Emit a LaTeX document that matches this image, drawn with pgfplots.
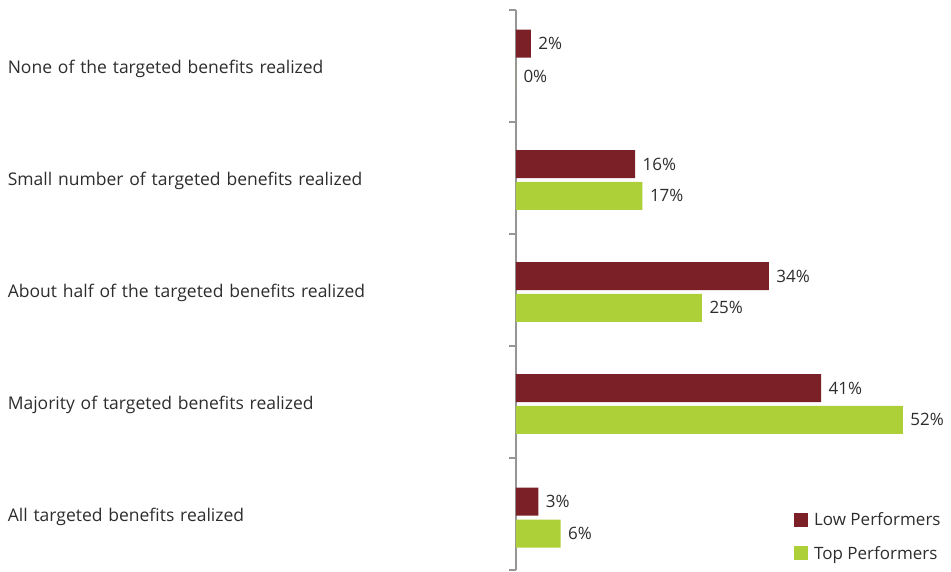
\documentclass[border=0pt]{standalone}
\usepackage{pgfplots}
\pgfplotsset{compat=1.18}
\usepackage{fontspec}
\setmainfont{Open Sans}
\definecolor{lowc}{RGB}{122,32,38}
\definecolor{topc}{RGB}{173,207,55}
\definecolor{txt}{RGB}{45,45,45}
\definecolor{axc}{RGB}{150,150,150}
\begin{document}
\begin{tikzpicture}
\useasboundingbox (-516pt,-2pt) rectangle (435pt,570pt);
\begin{axis}[
  at={(0,0)}, anchor=south west,
  scale only axis, width=435pt, height=560pt,
  xmin=0, xmax=58.47,
  ymin=-0.5, ymax=4.5, y dir=reverse,
  axis x line=none,
  axis y line*=left,
  y axis line style={axc, line width=1.2pt},
  ytick={-0.5,0.5,1.5,2.5,3.5,4.5},
  yticklabels={},
  major tick length=7pt,
  tick align=outside,
  ytick style={axc, line width=1.2pt},
  extra y ticks={0,1,2,3,4},
  extra y tick labels={None of the targeted benefits realized,
    Small number of targeted benefits realized,
    About half of the targeted benefits realized,
    Majority of targeted benefits realized,
    All targeted benefits realized},
  extra y tick style={major tick length=0pt,
    yticklabel style={anchor=east, text width=508pt, align=left, inner sep=0pt, xshift=0pt, yshift=-3pt}},
  yticklabel style={font=\fontsize{17.5}{20}\selectfont, text=txt},
  /pgf/number format/assume math mode=true,
  clip=false,
  xbar, bar width=28pt, bar shift=0pt,
  nodes near coords={\pgfmathprintnumber{\pgfplotspointmeta}\%},
  point meta=x,
  nodes near coords style={font=\fontsize{17}{20}\selectfont, text=txt, anchor=west, xshift=4pt},
  legend style={draw=none, fill=none, at={(rel axis cs:0.632,0.11)}, anchor=north west,
    font=\fontsize{17}{20}\selectfont, text=txt, row sep=15pt, column sep=4pt,
    legend cell align=left},
  legend image code/.code={\fill[#1] (0pt,-7pt) rectangle (14pt,7pt);},
]
\addplot[fill=lowc, draw=none] coordinates {(2,-0.2) (16,0.875) (34,1.875) (41,2.875) (3,3.89)};
\addlegendentry{Low Performers}
\addplot[fill=topc, draw=none] coordinates {(0,0.09) (17,1.16) (25,2.16) (52,3.16) (6,4.175)};
\addlegendentry{Top Performers}
\end{axis}
\end{tikzpicture}
\end{document}
